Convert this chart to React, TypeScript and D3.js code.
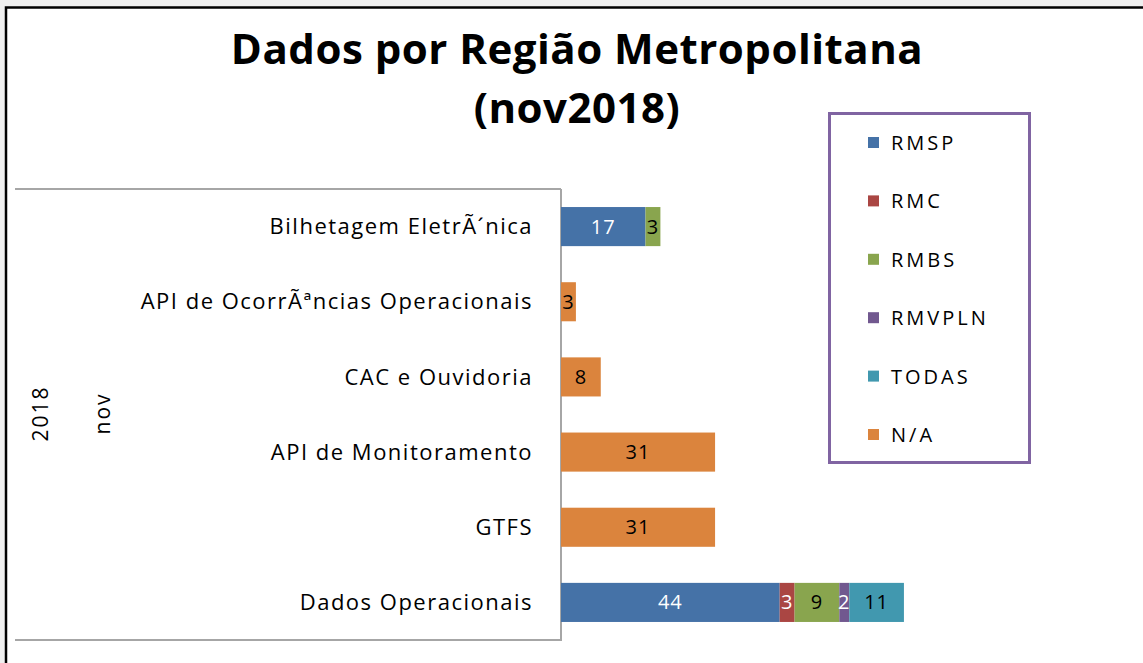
import React from "react";
import * as d3 from "d3";

const categories = [
  "Bilhetagem EletrÃ´nica",
  "API de OcorrÃªncias Operacionais",
  "CAC e Ouvidoria",
  "API de Monitoramento",
  "GTFS",
  "Dados Operacionais",
];
const seriesNames = ["RMSP", "RMC", "RMBS", "RMVPLN", "TODAS", "N/A"];
const seriesColors = ["#4572A7", "#AA4643", "#89A54E", "#71588F", "#4198AF", "#DB843D"];
const labelColors = ["#ffffff", "#ffffff", "#000000", "#ffffff", "#000000", "#000000"];
const RMSP = [17, 0, 0, 0, 0, 44];
const RMC = [0, 0, 0, 0, 0, 3];
const RMBS = [3, 0, 0, 0, 0, 9];
const RMVPLN = [0, 0, 0, 0, 0, 2];
const TODAS = [0, 0, 0, 0, 0, 11];
const NA = [0, 3, 8, 31, 31, 0];
const outerLabels = ["2018", "nov"];
const titleLines = ["Dados por Região Metropolitana", "(nov2018)"];

const W = 1143;
const H = 663;

export default function App() {
  const values = [RMSP, RMC, RMBS, RMVPLN, TODAS, NA];
  const rows = categories.map((c, i) => {
    const r: any = { cat: c };
    seriesNames.forEach((s, j) => (r[s] = values[j][i]));
    return r;
  });
  const stacked = d3.stack().keys(seriesNames)(rows);

  const axisX = 561;
  const top = 189;
  const bottom = 640;
  const y = d3.scaleBand().domain(categories).range([top, bottom]).paddingInner(0.48).paddingOuter(0.24);
  const x = d3.scaleLinear().domain([0, 100]).range([axisX, axisX + 497]);

  const font = "'Open Sans', sans-serif";
  const legendItemY = d3.scalePoint().domain(seriesNames).range([143, 435]);

  return (
    <svg width={W} height={H} style={{ position: "absolute", left: 0, top: 0, display: "block" }}>
      <rect x={0} y={0} width={W} height={H} fill="#efefef" />
      <rect x={6} y={7.5} width={W + 10} height={H + 10} fill="#ffffff" stroke="#000000" strokeWidth={2.5} />

      {titleLines.map((t, i) => (
        <text
          key={t}
          x={577}
          y={i === 0 ? 64 : 123}
          textAnchor="middle"
          fontFamily={font}
          fontWeight="bold"
          fontSize={42}
          letterSpacing={0.5}
          fill="#000"
        >
          {t}
        </text>
      ))}

      {/* category axis frame */}
      <line x1={15} x2={axisX} y1={top} y2={top} stroke="#a6a6a6" strokeWidth={2} />
      <line x1={15} x2={axisX} y1={bottom} y2={bottom} stroke="#a6a6a6" strokeWidth={2} />
      <line x1={axisX} x2={axisX} y1={top} y2={bottom + 1} stroke="#a6a6a6" strokeWidth={2} />

      {categories.map((c) => (
        <text
          key={c}
          x={533}
          y={(y(c) as number) + y.bandwidth() / 2}
          dy="0.35em"
          textAnchor="end"
          fontFamily={font}
          fontSize={22}
          letterSpacing={1.5}
          fill="#000"
        >
          {c}
        </text>
      ))}

      {outerLabels.map((t, i) => (
        <text
          key={t}
          transform={`translate(${i === 0 ? 40.5 : 102.5},${(top + bottom) / 2 - 1}) rotate(-90)`}
          textAnchor="middle"
          dy="0.35em"
          fontFamily={font}
          fontSize={21}
          letterSpacing={2}
          fill="#000"
        >
          {t}
        </text>
      ))}

      {stacked.map((s, j) => (
        <g key={s.key}>
          {s.map((d, i) => {
            const v = d[1] - d[0];
            if (!v) return null;
            const cat = categories[i];
            const x0 = x(d[0]);
            const x1 = x(d[1]);
            const yy = y(cat) as number;
            return (
              <g key={cat}>
                <rect x={x0} y={yy} width={x1 - x0} height={y.bandwidth()} fill={seriesColors[j]} />
                <text
                  x={(x0 + x1) / 2}
                  y={yy + y.bandwidth() / 2}
                  dy="0.35em"
                  textAnchor="middle"
                  fontFamily={font}
                  fontSize={20}
                  letterSpacing={1}
                  fill={labelColors[j]}
                >
                  {v}
                </text>
              </g>
            );
          })}
        </g>
      ))}

      {/* legend */}
      <rect x={829.5} y={113.5} width={200} height={349} fill="#ffffff" stroke="#8064A2" strokeWidth={3} />
      {seriesNames.map((s, j) => (
        <g key={s}>
          <rect x={868} y={(legendItemY(s) as number) - 6} width={11} height={11} fill={seriesColors[j]} />
          <text
            x={891}
            y={legendItemY(s) as number}
            dy="0.35em"
            fontFamily={font}
            fontSize={20}
            letterSpacing={3}
            fill="#000"
          >
            {s}
          </text>
        </g>
      ))}
    </svg>
  );
}
